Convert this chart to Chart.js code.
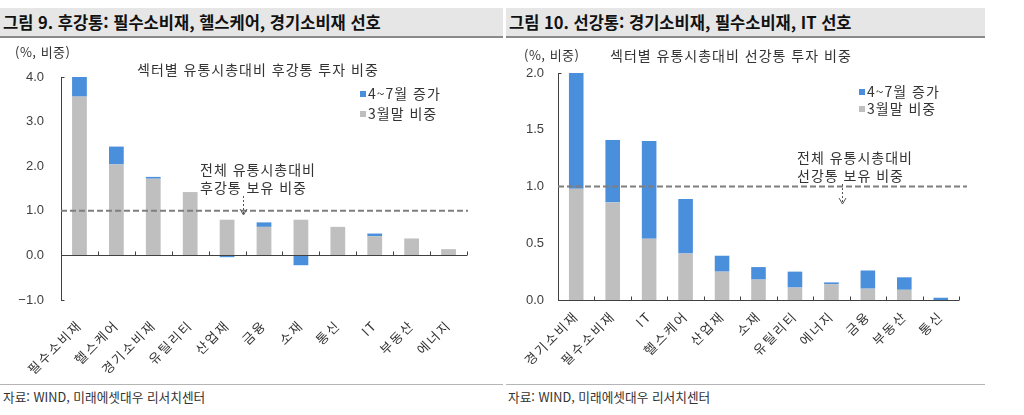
<!DOCTYPE html>
<html lang="ko">
<head>
<meta charset="utf-8">
<script src="https://cdn.jsdelivr.net/npm/chart.js@4.4.1/dist/chart.umd.min.js"></script>
<style>
  html, body { margin: 0; padding: 0; background: #fff; }
  body { width: 1024px; height: 415px; position: relative; overflow: hidden;
         font-family: "Noto Sans CJK KR", sans-serif; color: #333; }
  canvas { position: absolute; top: 0; }
  .head { position: absolute; top: 8px; height: 28px; line-height: 28px; background: #e6e6e6;
          border-bottom: 2px solid #8a8a8a; font-weight: bold; font-size: 16.5px; color: #111;
          padding-left: 3px; white-space: nowrap; }
  .foot-line { position: absolute; top: 384px; height: 0; border-top: 1px solid #b5b5b5; }
  .foot { position: absolute; top: 389px; font-size: 12.7px; line-height: 16px; color: #333; white-space: nowrap; }
  .txt { position: absolute; font-size: 14px; line-height: 16px; color: #333; white-space: nowrap; letter-spacing: 1px; }
  .lg { position: absolute; font-size: 14px; line-height: 16px; color: #333; white-space: nowrap; letter-spacing: 1px; }
  .lg i { display: inline-block; width: 6px; height: 6px; margin-right: 2px; vertical-align: 2px; }
</style>
</head>
<body>
<canvas id="chartHgt" width="512" height="385" style="left:0"></canvas>
<canvas id="chartSgt" width="512" height="385" style="left:512px"></canvas>

<div class="head" style="left:0; width:500px">그림 9. 후강통: 필수소비재, 헬스케어, 경기소비재 선호</div>
<div class="head" style="left:506px; width:476px">그림 10. 선강통: 경기소비재, 필수소비재, IT 선호</div>

<div class="txt" style="left:15px; top:44px; font-size:13px; letter-spacing:0.5px">(%, 비중)</div>
<div class="txt" style="left:137px; top:61px">섹터별 유통시총대비 후강통 투자 비중</div>
<div class="txt" style="left:200px; top:161px">전체 유통시총대비</div>
<div class="txt" style="left:200px; top:179px">후강통 보유 비중</div>
<div id="legendHgt"></div>

<div class="txt" style="left:524px; top:47px; font-size:13px; letter-spacing:0.5px">(%, 비중)</div>
<div class="txt" style="left:610px; top:47px">섹터별 유통시총대비 선강통 투자 비중</div>
<div class="txt" style="left:797px; top:149px">전체 유통시총대비</div>
<div class="txt" style="left:797px; top:167px">선강통 보유 비중</div>
<div id="legendSgt"></div>

<div class="foot-line" style="left:0; width:503px"></div>
<div class="foot-line" style="left:506px; width:479px"></div>
<div class="foot" style="left:3px">자료: WIND, 미래에셋대우 리서치센터</div>
<div class="foot" style="left:508px">자료: WIND, 미래에셋대우 리서치센터</div>

<script>
// 그림 9: 후강통
const hgtSectors = ['필수소비재', '헬스케어', '경기소비재', '유틸리티', '산업재', '금융', '소재', '통신', 'IT', '부동산', '에너지'];
const hgtMarch = [3.56, 2.04, 1.72, 1.42, 0.80, 0.64, 0.80, 0.64, 0.43, 0.38, 0.14];
const hgtIncrease = [0.44, 0.40, 0.04, 0.00, -0.04, 0.10, -0.22, 0.00, 0.06, 0.00, 0.00];
const hgtAvg = 1.0;

// 그림 10: 선강통
const sgtSectors = ['경기소비재', '필수소비재', 'IT', '헬스케어', '산업재', '소재', '유틸리티', '에너지', '금융', '부동산', '통신'];
const sgtMarch = [0.98, 0.86, 0.54, 0.41, 0.25, 0.18, 0.11, 0.14, 0.10, 0.09, 0.00];
const sgtIncrease = [1.02, 0.55, 0.86, 0.48, 0.14, 0.11, 0.14, 0.015, 0.16, 0.11, 0.02];
const sgtAvg = 1.0;

const seriesNames = ['4~7월 증가', '3월말 비중'];
const BLUE = '#4a8fdb';
const GRAY = '#bfbfbf';

// legend (html)
function buildLegend(id, left, tops) {
    const colors = [BLUE, GRAY];
    document.getElementById(id).innerHTML = seriesNames.map((name, i) =>
        '<div class="lg" style="left:' + left + 'px; top:' + tops[i] + 'px"><i style="background:' + colors[i] + '"></i>' + name + '</div>'
    ).join('');
}
buildLegend('legendHgt', 360, [85, 105]);
buildLegend('legendSgt', 859, [83, 100]);

// wider letter spacing for the category labels only
const spacedLabels = {
    id: 'spacedLabels',
    afterLayout(chart) {
        const xs = chart.scales.x;
        if (xs._spaced) return;
        const orig = xs.drawLabels;
        xs.drawLabels = function (area) {
            const c = this.ctx;
            const prev = c.letterSpacing;
            c.letterSpacing = '2px';
            orig.call(this, area);
            c.letterSpacing = prev;
        };
        xs._spaced = true;
    }
};

// zero axis, category ticks, dashed reference line and arrow
const decoPlugin = {
    id: 'deco',
    afterDatasetsDraw(chart, args, opts) {
        const { ctx, chartArea, scales: { x, y } } = chart;
        const y0 = Math.round(y.getPixelForValue(0)) + 0.5;
        const n = chart.data.labels.length;
        const step = (chartArea.right - chartArea.left) / n;
        ctx.save();
        ctx.strokeStyle = '#404040';
        ctx.lineWidth = 1;
        ctx.beginPath();
        ctx.moveTo(chartArea.left, y0);
        ctx.lineTo(chartArea.right, y0);
        for (let i = 1; i <= n; i++) {
            const px = Math.round(chartArea.left + step * i) + 0.5;
            ctx.moveTo(px, y0);
            ctx.lineTo(px, y0 - 4);
        }
        const lx = Math.round(chartArea.left) + 0.5;
        [chartArea.top, chartArea.bottom].forEach(py => {
            ctx.moveTo(lx, Math.round(py) + 0.5);
            ctx.lineTo(lx + 3, Math.round(py) + 0.5);
        });
        ctx.stroke();

        const yr = y.getPixelForValue(opts.value);
        ctx.strokeStyle = '#7f7f7f';
        ctx.lineWidth = 2;
        ctx.setLineDash([6, 3]);
        ctx.beginPath();
        ctx.moveTo(chartArea.left, yr);
        ctx.lineTo(chartArea.right + opts.extend, yr);
        ctx.stroke();

        ctx.strokeStyle = '#555';
        ctx.lineWidth = 1;
        ctx.setLineDash([2, 2]);
        ctx.beginPath();
        ctx.moveTo(opts.arrowX + 0.5, opts.arrowTop);
        ctx.lineTo(opts.arrowX + 0.5, opts.arrowBottom);
        ctx.stroke();
        ctx.setLineDash([]);
        ctx.beginPath();
        ctx.moveTo(opts.arrowX - 3, opts.arrowBottom - 6);
        ctx.lineTo(opts.arrowX + 0.5, opts.arrowBottom);
        ctx.lineTo(opts.arrowX + 4, opts.arrowBottom - 6);
        ctx.stroke();
        ctx.restore();
    }
};

function fmtTick(v) {
    return (v < 0 ? '\u2212' : '') + Math.abs(v).toFixed(1);
}

function makeChart(id, labels, march, increase, yMin, yMax, yStep, geo, deco) {
    const ctx = document.getElementById(id).getContext('2d');
    return new Chart(ctx, {
        type: 'bar',
        data: {
            labels: labels,
            datasets: [{
                label: seriesNames[1],
                data: march,
                backgroundColor: GRAY,
                barPercentage: 0.4,
                categoryPercentage: 1
            }, {
                label: seriesNames[0],
                data: increase,
                backgroundColor: BLUE,
                barPercentage: 0.4,
                categoryPercentage: 1
            }]
        },
        options: {
            responsive: false,
            animation: false,
            layout: { padding: { left: 0, right: geo.padRight, top: geo.padTop, bottom: 0 } },
            plugins: {
                legend: { display: false },
                tooltip: { enabled: false },
                deco: deco
            },
            scales: {
                x: {
                    stacked: true,
                    grid: { display: false, drawTicks: false },
                    border: { display: false },
                    ticks: {
                        autoSkip: false,
                        maxRotation: 45,
                        minRotation: 45,
                        padding: geo.xPad,
                        color: '#333',
                        font: { family: 'Noto Sans CJK KR', size: 13 }
                    },
                    afterFit(s) { s.height = geo.xHeight; }
                },
                y: {
                    stacked: true,
                    min: yMin,
                    max: yMax,
                    grid: { display: false, drawTicks: false },
                    border: { display: true, color: '#404040', width: 1 },
                    ticks: {
                        stepSize: yStep,
                        padding: geo.yPad,
                        color: '#404040',
                        font: { family: 'Liberation Sans', size: 13 },
                        callback: fmtTick
                    },
                    afterFit(s) { s.width = geo.yWidth; }
                }
            }
        },
        plugins: [spacedLabels, decoPlugin]
    });
}

makeChart('chartHgt', hgtSectors, hgtMarch, hgtIncrease, -1, 4, 1,
    { padRight: 45, padTop: 77, xHeight: 85, xPad: 17, yWidth: 61, yPad: 17 },
    { value: hgtAvg, extend: 1, arrowX: 243, arrowTop: 196, arrowBottom: 215 });

makeChart('chartSgt', sgtSectors, sgtMarch, sgtIncrease, 0, 2, 0.5,
    { padRight: 65, padTop: 73, xHeight: 85, xPad: 8, yWidth: 46, yPad: 14 },
    { value: sgtAvg, extend: 8, arrowX: 330, arrowTop: 184, arrowBottom: 204 });
</script>
</body>
</html>
